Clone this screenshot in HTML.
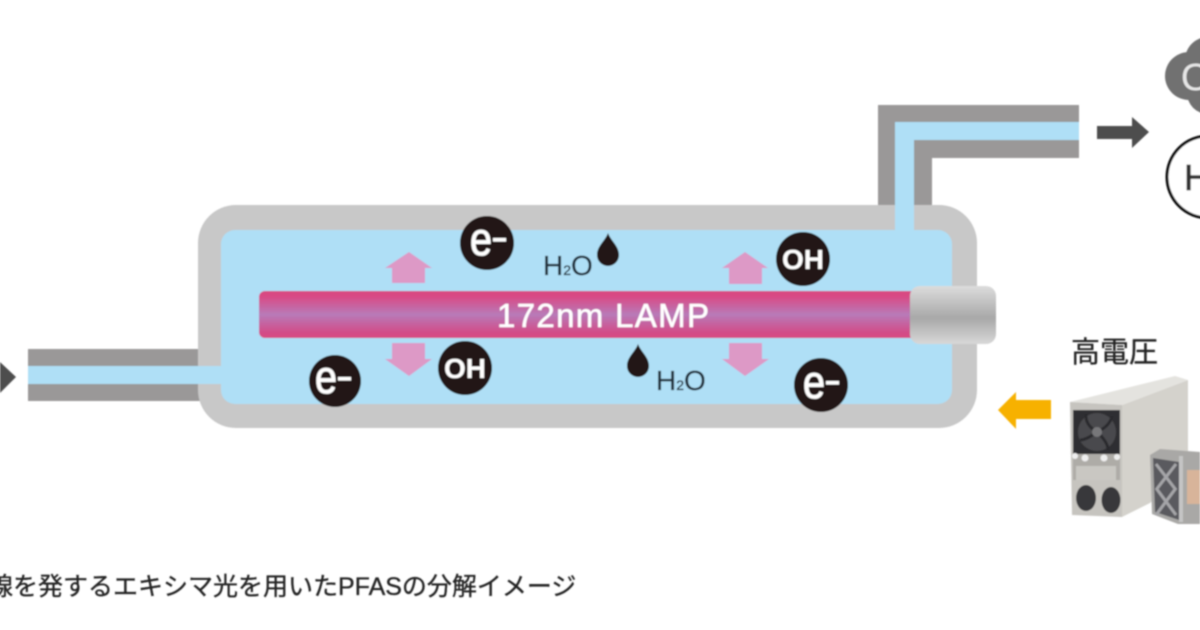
<!DOCTYPE html>
<html><head><meta charset="utf-8"><style>
html,body{margin:0;padding:0;background:#fff;width:1200px;height:630px;overflow:hidden}
svg{display:block}
text{font-family:"Liberation Sans","Noto Sans CJK JP",sans-serif}
</style></head><body>
<svg width="1200" height="630" viewBox="0 0 1200 630" xmlns="http://www.w3.org/2000/svg">
<defs>
<linearGradient id="lamp" x1="0" y1="0" x2="0" y2="1">
<stop offset="0" stop-color="#d84a80"/><stop offset=".12" stop-color="#d84a85"/><stop offset=".5" stop-color="#b87ab8"/><stop offset=".88" stop-color="#d24c88"/><stop offset="1" stop-color="#d84a80"/>
</linearGradient>
<linearGradient id="cap" x1="0" y1="0" x2="0" y2="1">
<stop offset="0" stop-color="#dcdcdc"/><stop offset=".55" stop-color="#a8a8a8"/><stop offset="1" stop-color="#d8d8d8"/>
</linearGradient>
<filter id="b" x="-5%" y="-5%" width="110%" height="110%"><feGaussianBlur stdDeviation="0.8"/></filter>
<g id="drop"><path d="M0-17C3-9 11-4 11 5A11 11 0 0 1-11 5C-11-4-3-9 0-17Z" fill="#231815"/></g>
</defs>
<rect width="1200" height="630" fill="#fff"/>
<g filter="url(#b)">
<!-- left pipe -->
<rect x="28" y="349" width="172" height="52" fill="#9a9898"/>
<!-- top right pipe -->
<path d="M878 210V105H1079V158H932V210Z" fill="#9a9898"/>
<!-- tank -->
<rect x="198" y="205" width="779" height="223" rx="38" fill="#c8c8c8"/>
<rect x="221" y="230" width="731" height="174" rx="14" fill="#afdff6"/>
<rect x="28" y="366" width="196" height="18" fill="#afdff6"/>
<path d="M895 232V122H1079V140H914V232Z" fill="#afdff6"/>
<!-- lamp -->
<rect x="259" y="291" width="670" height="47" rx="6" fill="url(#lamp)"/>
<rect x="910" y="286" width="86" height="58" rx="10" fill="url(#cap)"/>
<text x="497" y="327" font-size="33" fill="#fff" stroke="#fff" stroke-width="0.5" textLength="212" lengthAdjust="spacing">172nm LAMP</text>
<!-- pink arrows -->
<g fill="#dd99c6">
<path d="M409 252L432 268H425V283H392V268H385Z"/>
<path d="M745 252L768 268H762V284H729V268H722Z"/>
<path d="M392 343H425V359H432L409 376L385 359H392Z"/>
<path d="M729 343H762V359H769L745 376L722 359H729Z"/>
</g>
<!-- particles -->
<g fill="#231815">
<circle cx="487" cy="243" r="27"/><circle cx="803" cy="259" r="27"/>
<circle cx="465" cy="368" r="27"/><circle cx="335" cy="381" r="26"/>
<circle cx="821" cy="385" r="27"/>
</g>
<g fill="#fff" font-weight="bold">
<text x="803" y="269" font-size="28" text-anchor="middle">OH</text>
<text x="465" y="378" font-size="28" text-anchor="middle">OH</text>
</g>
<g fill="#fff" stroke="#fff" stroke-width="0.8" font-size="46">
<text x="470" y="255" textLength="22" lengthAdjust="spacingAndGlyphs">e</text>
<text x="315" y="393" textLength="22" lengthAdjust="spacingAndGlyphs">e</text>
<text x="803" y="398" textLength="22" lengthAdjust="spacingAndGlyphs">e</text>
</g>
<g fill="#fff">
<rect x="493" y="238" width="13" height="3.5"/>
<rect x="338" y="377" width="13" height="3.5"/>
<rect x="826" y="381" width="13" height="3.5"/>
</g>
<use href="#drop" x="608" y="250"/>
<use href="#drop" x="638" y="361"/>
<g fill="#24323e" stroke="#24323e" stroke-width="0.3">
<text x="543" y="275" font-size="28">H<tspan font-size="14">2</tspan>O</text>
<text x="656" y="390" font-size="28">H<tspan font-size="14">2</tspan>O</text>
</g>
<!-- dark arrows -->
<path d="M1097 126H1132V117L1149 132L1132 148V139H1097Z" fill="#4e4e4e"/>
<path d="M0 362L16 377L0 393Z" fill="#4e4e4e"/>
<!-- yellow arrow -->
<path d="M998 410L1016 392V400H1051V419H1016V429Z" fill="#f7b100"/>
<!-- cloud -->
<g fill="#717171">
<circle cx="1189" cy="76" r="24"/>
<circle cx="1208" cy="60" r="23"/>
<circle cx="1208" cy="93" r="21"/>
<rect x="1185" y="60" width="15" height="34"/>
</g>
<text x="1181" y="90" font-size="38" fill="#e6e6e6">O</text>
<!-- H circle -->
<circle cx="1208" cy="177" r="41" fill="#fff" stroke="#111" stroke-width="3"/>
<text x="1184" y="190" font-size="36" fill="#333" stroke="#333" stroke-width="0.8">H</text>
<!-- label -->
<text x="1071" y="362" font-size="29" fill="#222" stroke="#222" stroke-width="0.3">高電圧</text>
<!-- power supply -->
<path d="M1122 405L1188 380V470L1150 503L1122 517Z" fill="#d4d2cc"/>
<path d="M1070 402L1175 376L1188 380L1122 405Z" fill="#e4e3df"/>
<path d="M1070 402L1122 405V517L1072 515Z" fill="#c6c4bf"/>
<rect x="1073" y="410" width="47" height="44" fill="#2f2e31"/>
<circle cx="1097" cy="432" r="19" fill="#4a4a4d"/>
<path d="M1097 432Q1085 425 1086 414M1097 432Q1110 426 1112 416M1097 432Q1108 442 1108 450M1097 432Q1086 440 1080 440" stroke="#2b2b2d" stroke-width="3" fill="none"/>
<circle cx="1097" cy="432" r="5" fill="#77777a"/>
<rect x="1073" y="454" width="47" height="26" fill="#aeaca7"/>
<circle cx="1075" cy="456" r="3" fill="#eee"/><circle cx="1085" cy="458" r="3.5" fill="#eee"/><circle cx="1104" cy="458" r="3.5" fill="#eee"/><circle cx="1117" cy="457" r="3" fill="#eee"/>
<rect x="1076" y="466" width="40" height="14" fill="#c9c7c2"/>
<ellipse cx="1086" cy="498" rx="10" ry="13" fill="#39383b"/>
<ellipse cx="1111" cy="500" rx="9.5" ry="13" fill="#39383b"/>
<path d="M1150 455L1160 449L1200 452V524L1178 524L1152 514Z" fill="#a9a8a6"/>
<path d="M1153 458L1179 462V520L1155 512Z" fill="#5a5a5e"/>
<path d="M1156 464L1176 490M1176 464L1156 490M1156 488L1176 515M1176 488L1156 515" stroke="#a5a5a8" stroke-width="3" fill="none"/>
<rect x="1179" y="456" width="4" height="66" fill="#c5c5c5"/>
<rect x="1187" y="470" width="13" height="34" fill="#d8b49a"/>
<!-- caption -->
<text x="-12" y="595" font-size="25" fill="#222" stroke="#222" stroke-width="0.3">線を発するエキシマ光を用いたPFASの分解イメージ</text>
</g>
</svg>
</body></html>
